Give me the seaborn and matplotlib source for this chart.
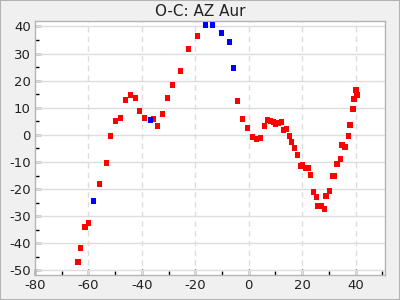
import matplotlib
matplotlib.use("Agg")
import matplotlib.pyplot as plt
import seaborn as sns
import pandas as pd
from matplotlib.ticker import MultipleLocator

sns.set_theme(style="white")
plt.rcParams['font.family'] = ['DejaVu Sans']

red_x = [-64.0, -62.9, -61.3, -59.9, -55.8, -53.2, -51.7, -49.8, -48.0, -46.1,
         -44.2, -42.4, -40.9, -39.0, -35.6, -34.1, -32.3, -30.4, -28.5, -25.5,
         -22.6, -19.2, -4.2, -2.4, -0.5, 1.4, 2.9, 4.4, 5.9, 7.0,
         8.1, 9.2, 10.0, 11.1, 12.2, 13.0, 14.1, 15.2, 16.0, 17.1,
         18.2, 19.3, 20.1, 21.2, 22.3, 23.1, 24.2, 25.3, 26.0, 27.2,
         28.3, 29.0, 30.2, 31.3, 32.0, 33.1, 34.3, 35.0, 36.1, 37.3,
         38.0, 39.1, 39.5, 40.2, 40.6]
red_y = [-46.8, -41.7, -33.9, -32.5, -18.1, -10.3, -0.4, 5.2, 6.3, 12.9,
         14.8, 13.6, 8.9, 6.3, 5.9, 3.3, 7.7, 13.6, 18.4, 23.6,
         31.7, 36.5, 12.5, 5.9, 2.6, -0.7, -1.5, -1.1, 3.3, 5.5,
         5.2, 4.8, 4.1, 4.4, 4.8, 1.8, 2.2, -0.4, -2.6, -4.8,
         -7.4, -11.4, -11.1, -12.2, -12.2, -14.8, -21.0, -22.9, -26.2, -26.2,
         -27.3, -22.5, -20.7, -15.1, -15.1, -10.7, -8.9, -3.7, -4.4, -0.4,
         3.7, 9.6, 13.3, 16.6, 14.8]
blue_x = [-58.1, -36.8, -16.2, -13.6, -10.2, -7.2, -5.7]
blue_y = [-24.3, 5.5, 40.6, 40.6, 37.6, 34.3, 24.7]

x_ticks = [-80, -60, -40, -20, 0, 20, 40]
y_ticks = [40, 30, 20, 10, 0, -10, -20, -30, -40, -50]

df = pd.DataFrame({
    "x": red_x + blue_x,
    "y": red_y + blue_y,
    "kind": ["red"] * len(red_x) + ["blue"] * len(blue_x),
})

fig = plt.figure(figsize=(4, 3), dpi=100, facecolor="#f0f0f0")
ax = fig.add_axes([0.0875, 0.083, 0.875, 0.847])
ax.set_facecolor("white")

sns.scatterplot(data=df, x="x", y="y", hue="kind",
                palette={"red": "#ff0000", "blue": "#0000ff"},
                marker="s", s=16, linewidth=0, legend=False, ax=ax, zorder=3)

ax.set_xlim(-80, 51)
ax.set_ylim(-51.7, 42)
ax.set_xticks(x_ticks)
ax.set_yticks(y_ticks)
ax.set_xticklabels([str(t) for t in x_ticks])
ax.set_yticklabels([str(t) for t in y_ticks])
ax.xaxis.set_minor_locator(MultipleLocator(10))
ax.yaxis.set_minor_locator(MultipleLocator(5))
ax.tick_params(axis="both", which="major", direction="in", length=4, width=1,
               color="black", labelsize=9.5, labelcolor="#222222", pad=3,
               bottom=True, left=True)
ax.tick_params(axis="both", which="minor", direction="in", length=3, width=1,
               color="black", bottom=True, left=True)

ax.grid(False)
for t in x_ticks[1:]:
    ax.axvline(t, color="#dddddd", linestyle=(0, (4, 3)), linewidth=1, zorder=1)
for t in y_ticks:
    ax.axhline(t, color="#dddddd", linestyle="-", linewidth=1, zorder=1)

for s in ax.spines.values():
    s.set_color("#b4b4b4")
    s.set_linewidth(1)

ax.set_xlabel("")
ax.set_ylabel("")
fig.text(0.5, 0.962, "O-C: AZ Aur", ha="center", va="center",
         fontsize=11, color="#222222")

border = plt.Rectangle((0, 0), 1, 1, transform=fig.transFigure, fill=False,
                       edgecolor="#b4b4b4", linewidth=1.5)
fig.patches.append(border)

fig.savefig("out.png", dpi=100, facecolor=fig.get_facecolor())
